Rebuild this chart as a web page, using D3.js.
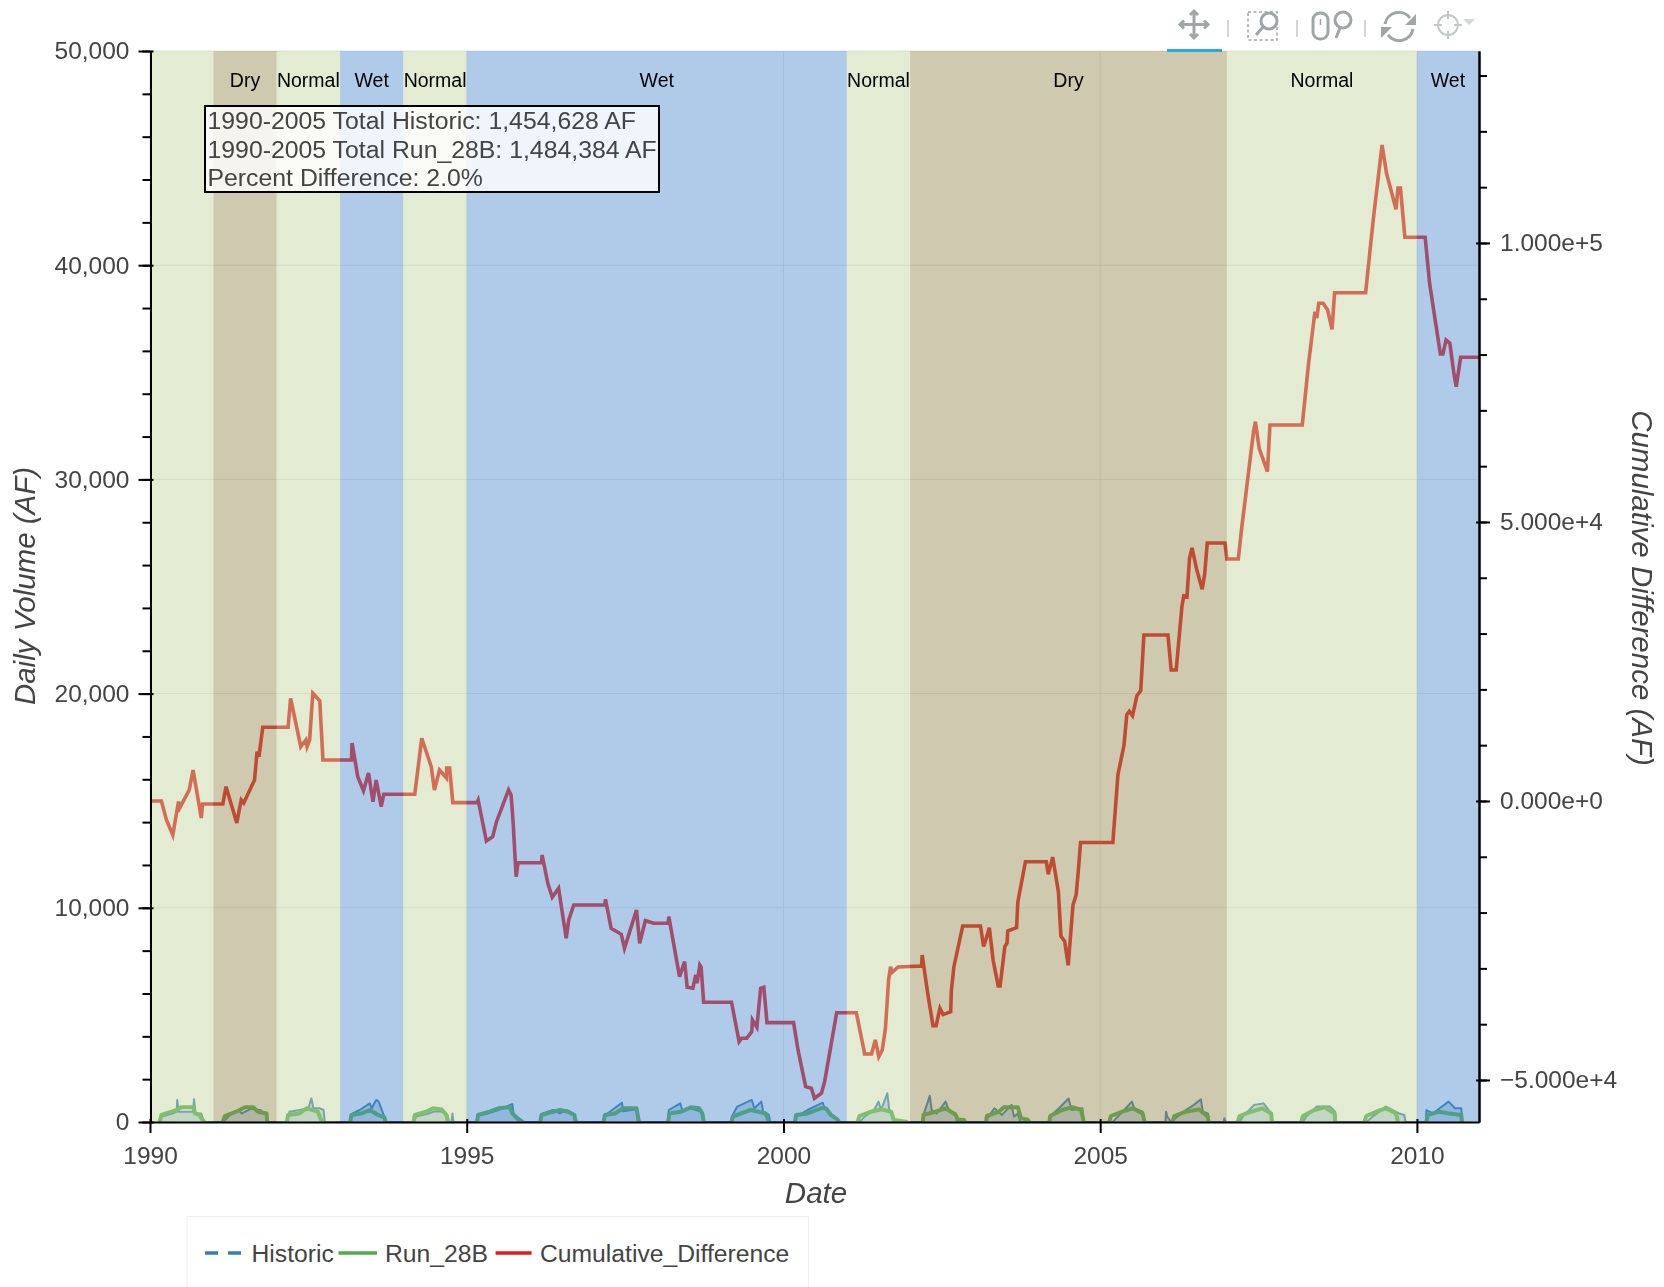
<!DOCTYPE html>
<html><head><meta charset="utf-8">
<style>html,body{margin:0;padding:0;background:#fff;overflow:hidden}svg{display:block;filter:blur(.55px)}text{font-family:"Liberation Sans",Arial,sans-serif}</style>
<script src="https://cdn.jsdelivr.net/npm/d3@7"></script></head><body>
<script>
// Water-year type periods: [start, end, type, label]
const periods=[[1990,1991,"Normal",""],[1991,1992,"Dry","Dry"],[1992,1993,"Normal","Normal"],[1993,1994,"Wet","Wet"],[1994,1995,"Normal","Normal"],[1995,2001,"Wet","Wet"],[2001,2002,"Normal","Normal"],[2002,2007,"Dry","Dry"],[2007,2010,"Normal","Normal"],[2010,2010.98,"Wet","Wet"]];
const leftTicks=[0,10000,20000,30000,40000,50000];
const rightTicks=[-50000,0,50000,100000];
const xTicks=[1990,1995,2000,2005,2010];
// Cumulative difference (AF) by decimal year
const cumulative=[[1990,0],[1990.18,0],[1990.26,-3400],[1990.36,-6100],[1990.45,-100],[1990.47,-1250],[1990.62,2000],[1990.68,5550],[1990.81,-3050],[1990.83,-540],[1991.15,-540],[1991.2,2560],[1991.37,-3940],[1991.44,180],[1991.48,-360],[1991.65,3760],[1991.69,8830],[1991.72,7940],[1991.78,13200],[1992.18,13200],[1992.22,18400],[1992.38,9730],[1992.46,10930],[1992.48,9730],[1992.52,10930],[1992.57,19300],[1992.68,17970],[1992.73,7350],[1993.18,7350],[1993.19,10390],[1993.28,4350],[1993.37,1850],[1993.45,5020],[1993.52,-130],[1993.57,3760],[1993.65,-1020],[1993.69,1200],[1994.18,1200],[1994.29,11240],[1994.44,6150],[1994.49,1970],[1994.57,5550],[1994.68,4120],[1994.683,5910],[1994.73,5910],[1994.78,-300],[1995.16,-300],[1995.18,180],[1995.31,-7170],[1995.41,-6400],[1995.47,-3710],[1995.66,1970],[1995.7,1080],[1995.73,-3400],[1995.78,-13570],[1995.81,-11060],[1996.18,-11060],[1996.19,-9680],[1996.28,-14750],[1996.35,-17260],[1996.45,-15640],[1996.57,-24600],[1996.61,-21320],[1996.69,-18640],[1997.18,-18640],[1997.19,-17620],[1997.28,-22810],[1997.44,-23890],[1997.49,-26400],[1997.68,-19530],[1997.73,-25500],[1997.82,-21450],[1997.95,-21920],[1998.18,-21920],[1998.19,-20730],[1998.36,-31490],[1998.44,-28800],[1998.48,-33380],[1998.57,-33560],[1998.615,-31180],[1998.636,-32670],[1998.68,-29390],[1998.7,-29750],[1998.74,-36070],[1999.18,-36070],[1999.3,-43130],[1999.34,-42520],[1999.42,-42520],[1999.5,-41340],[1999.51,-39240],[1999.58,-40550],[1999.64,-33560],[1999.69,-33380],[1999.74,-39730],[2000.16,-39730],[2000.23,-44620],[2000.35,-51200],[2000.44,-51480],[2000.49,-53270],[2000.6,-52380],[2000.65,-50300],[2000.84,-37940],[2001.15,-37940],[2001.27,-44620],[2001.28,-45340],[2001.39,-45340],[2001.45,-42830],[2001.505,-45820],[2001.56,-44620],[2001.61,-40730],[2001.66,-32080],[2001.69,-29690],[2001.71,-30770],[2001.81,-29750],[2002.18,-29570],[2002.19,-27600],[2002.28,-34690],[2002.36,-40250],[2002.41,-40250],[2002.47,-37170],[2002.52,-38280],[2002.64,-37780],[2002.65,-34080],[2002.69,-29750],[2002.83,-22400],[2003.11,-22400],[2003.16,-26090],[2003.195,-24850],[2003.25,-22700],[2003.31,-28550],[2003.39,-33150],[2003.42,-33150],[2003.495,-26090],[2003.53,-25450],[2003.54,-23300],[2003.68,-22700],[2003.7,-18100],[2003.82,-10880],[2004.15,-10880],[2004.18,-13150],[2004.25,-10070],[2004.34,-16240],[2004.38,-24230],[2004.44,-25160],[2004.495,-29460],[2004.57,-18690],[2004.62,-16840],[2004.65,-13150],[2004.69,-7440],[2005.2,-7440],[2005.28,4700],[2005.375,9930],[2005.42,15460],[2005.46,16070],[2005.51,15290],[2005.58,18850],[2005.64,19780],[2005.69,29750],[2006.07,29750],[2006.12,23480],[2006.2,23480],[2006.29,34850],[2006.32,36740],[2006.37,36560],[2006.41,43470],[2006.45,45340],[2006.52,41630],[2006.61,37940],[2006.65,40700],[2006.69,46230],[2006.97,46230],[2007,43370],[2007.18,43370],[2007.23,48560],[2007.42,66180],[2007.45,67970],[2007.51,63200],[2007.64,59010],[2007.68,67380],[2008.19,67380],[2008.29,78440],[2008.39,87680],[2008.42,86550],[2008.45,89190],[2008.52,89190],[2008.59,87990],[2008.66,84530],[2008.7,91090],[2009.19,91090],[2009.31,104120],[2009.45,117560],[2009.52,112480],[2009.67,106030],[2009.7,109850],[2009.74,109850],[2009.81,101010],[2010.13,101010],[2010.2,92770],[2010.37,80100],[2010.41,80100],[2010.46,82610],[2010.52,82020],[2010.58,76930],[2010.62,74240],[2010.69,79510],[2010.98,79510]];
// Run_28B daily volume (AF)
const run28B=[[1990,0],[1990.15,0],[1990.18,330],[1990.34,480],[1990.42,560],[1990.49,690],[1990.68,690],[1990.71,400],[1990.78,330],[1990.81,170],[1990.86,0],
[1991.15,0],[1991.18,280],[1991.36,480],[1991.5,690],[1991.63,690],[1991.7,480],[1991.84,400],[1991.85,0],
[1992.16,0],[1992.18,330],[1992.36,400],[1992.47,640],[1992.57,560],[1992.65,480],[1992.7,100],[1992.73,0],
[1993.16,0],[1993.18,330],[1993.34,400],[1993.47,560],[1993.6,330],[1993.7,220],[1993.72,0],
[1994.16,0],[1994.18,330],[1994.36,480],[1994.47,640],[1994.6,590],[1994.68,330],[1994.7,0],
[1995.16,0],[1995.18,330],[1995.36,480],[1995.5,640],[1995.68,690],[1995.72,400],[1995.81,120],[1995.86,0],
[1996.16,0],[1996.18,330],[1996.36,480],[1996.47,560],[1996.6,480],[1996.7,330],[1996.72,0],
[1997.16,0],[1997.18,330],[1997.34,400],[1997.47,640],[1997.68,640],[1997.72,0],
[1998.18,0],[1998.2,400],[1998.38,480],[1998.54,690],[1998.67,640],[1998.72,400],[1998.74,0],
[1999.18,0],[1999.2,250],[1999.33,400],[1999.48,560],[1999.72,400],[1999.77,0],
[2000.18,0],[2000.2,330],[2000.38,400],[2000.59,640],[2000.67,640],[2000.75,330],[2000.85,120],[2000.88,0],
[2001.17,0],[2001.2,280],[2001.38,480],[2001.54,590],[2001.7,480],[2001.74,100],[2001.96,0],
[2002.2,0],[2002.21,330],[2002.4,480],[2002.56,640],[2002.72,330],[2002.75,120],[2002.85,90],[2002.87,0],
[2003.2,0],[2003.21,280],[2003.4,480],[2003.48,690],[2003.7,690],[2003.75,170],[2003.85,120],[2003.88,0],
[2004.2,0],[2004.21,280],[2004.4,560],[2004.56,690],[2004.7,560],[2004.74,0],
[2005.14,0],[2005.17,280],[2005.35,480],[2005.51,640],[2005.67,400],[2005.7,0],
[2006.14,0],[2006.17,280],[2006.35,480],[2006.56,590],[2006.7,250],[2006.71,0],
[2007.17,0],[2007.2,280],[2007.38,480],[2007.56,640],[2007.7,400],[2007.71,0],
[2008.17,0],[2008.2,280],[2008.38,560],[2008.54,690],[2008.7,400],[2008.71,0],
[2009.17,0],[2009.2,280],[2009.4,530],[2009.51,640],[2009.67,400],[2009.7,0],
[2010.15,0],[2010.17,330],[2010.35,480],[2010.51,400],[2010.7,330],[2010.71,0],[2010.98,0]];
// Historic daily volume (AF)
const historic=[[1990.16,0],[1990.18,250],[1990.36,400],[1990.42,480],[1990.43,1030],[1990.45,480],[1990.5,480],[1990.68,480],[1990.695,1060],[1990.72,400],[1990.81,400],[1990.84,120],[1990.86,0],
[1991.16,0],[1991.25,300],[1991.4,550],[1991.45,400],[1991.6,620],[1991.75,550],[1991.84,300],[1991.85,0],
[1992.17,0],[1992.2,480],[1992.36,560],[1992.5,640],[1992.547,1100],[1992.58,640],[1992.68,640],[1992.74,560],[1992.76,0],
[1993.16,0],[1993.2,400],[1993.31,560],[1993.47,870],[1993.5,640],[1993.57,1030],[1993.61,950],[1993.65,640],[1993.7,250],[1993.73,0],
[1994.17,0],[1994.2,250],[1994.4,400],[1994.5,500],[1994.62,480],[1994.7,300],[1994.72,0],[1994.76,0],[1994.775,400],[1994.79,0],
[1995.16,0],[1995.18,300],[1995.33,400],[1995.5,560],[1995.72,840],[1995.74,400],[1995.79,250],[1995.86,100],[1995.9,0],
[1996.17,0],[1996.2,400],[1996.36,560],[1996.47,400],[1996.57,560],[1996.68,400],[1996.73,100],[1996.74,0],
[1997.16,0],[1997.18,300],[1997.45,900],[1997.47,500],[1997.68,600],[1997.7,0],
[1998.17,0],[1998.19,560],[1998.37,870],[1998.41,480],[1998.54,640],[1998.7,480],[1998.74,0],
[1999.18,0],[1999.2,330],[1999.27,720],[1999.5,1030],[1999.54,640],[1999.65,950],[1999.68,480],[1999.77,330],[1999.79,0],
[2000.18,0],[2000.2,250],[2000.38,560],[2000.62,900],[2000.65,640],[2000.85,100],[2000.88,0],
[2001.2,0],[2001.28,250],[2001.43,560],[2001.5,950],[2001.54,560],[2001.64,1340],[2001.67,560],[2001.72,400],[2001.74,0],
[2002.2,0],[2002.21,330],[2002.31,1220],[2002.34,560],[2002.42,400],[2002.56,950],[2002.61,560],[2002.72,400],[2002.74,0],
[2003.19,0],[2003.2,100],[2003.33,640],[2003.45,330],[2003.6,800],[2003.64,250],[2003.7,400],[2003.74,0],
[2004.19,0],[2004.2,250],[2004.35,640],[2004.5,1100],[2004.55,560],[2004.72,640],[2004.74,0],
[2005.2,0],[2005.25,170],[2005.38,560],[2005.5,950],[2005.54,640],[2005.67,480],[2005.7,0],
[2006.03,0],[2006.04,480],[2006.06,250],[2006.12,0],[2006.16,100],[2006.35,560],[2006.48,800],[2006.59,1060],[2006.62,480],[2006.7,400],[2006.72,0],[2006.95,0],[2006.96,170],[2006.98,0],
[2007.2,0],[2007.25,250],[2007.43,800],[2007.58,870],[2007.7,400],[2007.72,0],
[2008.2,0],[2008.25,250],[2008.42,720],[2008.63,720],[2008.71,480],[2008.72,0],
[2009.2,0],[2009.3,250],[2009.51,720],[2009.72,400],[2009.8,330],[2009.82,0],
[2010.14,0],[2010.15,560],[2010.25,400],[2010.5,950],[2010.6,640],[2010.7,640],[2010.72,0]];
const boxLines=["1990-2005 Total Historic: 1,454,628 AF","1990-2005 Total Run_28B: 1,484,384 AF","Percent Difference: 2.0%"];
const legendItems=["Historic","Run_28B","Cumulative_Difference"];

const W=1664,H=1287,L=150.5,R=1479,T=51,B=1122;
const ink="#444",colors={Historic:"#377eb8",Run:"#4daf4a",Cum:"#e41a1c"};
const patch={Normal:"#c1d39b",Dry:"#958850",Wet:"#508ccf"};
const svg=d3.select("body").append("svg").attr("width",W).attr("height",H);
const x=d3.scaleLinear().domain([1990,2010.98]).range([150,R]);
const yL=d3.scaleLinear().domain([0,50000]).range([B,T]);
const yR=d3.scaleLinear().domain([-57530,134400]).range([B,T]);

svg.append("defs").append("clipPath").attr("id","plot").append("rect").attr("x",L).attr("y",T).attr("width",R-L).attr("height",B-T);
// outline + grid
svg.append("rect").attr("x",L).attr("y",T).attr("width",R-L).attr("height",B-T).attr("fill","#fff").attr("stroke","#e5e5e5");
svg.append("g").selectAll("line").data(leftTicks.slice(1,-1)).join("line").attr("x1",L).attr("x2",R).attr("y1",yL).attr("y2",yL).attr("stroke","#e5e5e5");
svg.append("g").selectAll("line").data(xTicks).join("line").attr("y1",T).attr("y2",B).attr("x1",x).attr("x2",x).attr("stroke","#e5e5e5");
// series
const g=svg.append("g").attr("clip-path","url(#plot)");
g.append("path").datum(historic).attr("fill",colors.Historic).attr("fill-opacity",.28).attr("stroke",colors.Historic).attr("stroke-width",2).attr("stroke-linejoin","round")
 .attr("d",d3.line().x(d=>x(d[0])).y(d=>yL(d[1])));
const runSeasons=[];run28B.forEach((d,i)=>{if(i==0||(d[1]==0&&run28B[i-1][1]==0))runSeasons.push([d]);else runSeasons[runSeasons.length-1].push(d);});
const lineL=d3.line().x(d=>x(d[0])).y(d=>yL(d[1]));
g.selectAll("path.run").data(runSeasons).join("path").attr("class","run").attr("fill","none").attr("stroke",colors.Run).attr("stroke-width",4).attr("stroke-linejoin","round").attr("d",lineL);
g.append("path").datum(cumulative).attr("fill","none").attr("stroke",colors.Cum).attr("stroke-width",3.6).attr("stroke-linejoin","miter").attr("d",d3.line().x(d=>x(d[0])).y(d=>yR(d[1])));
// period patches on top of the lines
svg.append("g").selectAll("rect").data(periods).join("rect")
 .attr("x",d=>x(d[0])).attr("width",d=>x(d[1])-x(d[0])).attr("y",T).attr("height",B-T)
 .attr("fill",d=>patch[d[2]]).attr("fill-opacity",.45);
svg.append("g").selectAll("text").data(periods.filter(d=>d[3])).join("text")
 .attr("x",d=>(x(d[0])+x(d[1]))/2).attr("y",86.5).attr("text-anchor","middle")
 .attr("font-size",19.5).attr("fill","#000").text(d=>d[3]);
// annotation box
const box=svg.append("g");
box.append("rect").attr("x",205).attr("y",106).attr("width",454).attr("height",86).attr("fill","#fff").attr("fill-opacity",.8).attr("stroke","#000").attr("stroke-width",2);
box.selectAll("text").data(boxLines).join("text").attr("x",207.5).attr("y",(d,i)=>129+i*28.5).attr("font-size",24.82).attr("fill",ink).text(d=>d);
// axes
function style(sel,fs){sel.select(".domain").attr("stroke","#000").attr("stroke-width",2);sel.selectAll("line").attr("stroke","#000").attr("stroke-width",2);sel.selectAll("text").attr("font-size",fs).attr("fill",ink).attr("font-family",'"Liberation Sans",Arial,sans-serif');}
const minorL=svg.append("g").attr("transform",`translate(${L},0)`).call(d3.axisLeft(yL).tickValues(d3.range(0,50001,2000)).tickSize(8).tickFormat("").tickSizeOuter(0));style(minorL,0);
const axL=svg.append("g").attr("transform",`translate(${L},0)`).call(d3.axisLeft(yL).tickValues(leftTicks).tickSize(12).tickSizeOuter(0).tickPadding(9).tickFormat(d3.format(",")));style(axL,24.5);axL.selectAll(".tick line").attr("x1",3);
const minorR=svg.append("g").attr("transform",`translate(${R},0)`).call(d3.axisRight(yR).tickValues(d3.range(-50000,130001,10000)).tickSize(8).tickFormat("").tickSizeOuter(0));style(minorR,0);
const axR=svg.append("g").attr("transform",`translate(${R},0)`).call(d3.axisRight(yR).tickValues(rightTicks).tickSize(11).tickSizeOuter(0).tickPadding(10).tickFormat(d3.format(".3e")));style(axR,24.5);axR.selectAll(".tick line").attr("x1",-3);
const axB=svg.append("g").attr("transform",`translate(0,${B})`).call(d3.axisBottom(x).tickValues(xTicks).tickSize(11).tickSizeOuter(0).tickPadding(14).tickFormat(d3.format("d")));style(axB,24.5);axB.selectAll(".tick line").attr("y1",-3);
// titles
const title=(t,xx,yy,rot)=>svg.append("text").attr("transform",`translate(${xx},${yy}) rotate(${rot})`).attr("text-anchor","middle").attr("font-size",29.5).attr("font-style","italic").attr("fill",ink).text(t);
title("Date",816,1203,0);
title("Daily Volume (AF)",34.5,586,-90);
title("Cumulative Difference (AF)",1632,588,90);
// legend
svg.append("rect").attr("x",187).attr("y",1216.5).attr("width",621.5).attr("height",90).attr("fill","#fff").attr("stroke","#eee");
const legendGeom=[[205,241,251.5,colors.Historic,"13 10"],[338.5,377,385,colors.Run,null],[495.6,531.6,540,colors.Cum,null]];
legendItems.forEach((t,i)=>{const m=legendGeom[i];
 svg.append("line").attr("x1",m[0]).attr("x2",m[1]).attr("y1",1253).attr("y2",1253).attr("stroke",m[3]).attr("stroke-width",3.6).attr("stroke-dasharray",m[4]);
 svg.append("text").attr("x",m[2]).attr("y",1261.5).attr("font-size",24.7).attr("fill",ink).text(t);});
// toolbar
const tb=svg.append("g").attr("fill","none").attr("stroke","#a0a5a8").attr("stroke-width",3);
tb.append("path").attr("d","M1194 11V38M1180 24.5H1208M1190 15l4-4 4 4M1190 34l4 4 4-4M1184 20.5l-4 4 4 4M1204 20.5l4 4-4 4");
[1228,1297,1365].forEach(v=>tb.append("line").attr("x1",v).attr("x2",v).attr("y1",20).attr("y2",37).attr("stroke-width",1.5).attr("stroke","#c4c8ca"));
tb.append("rect").attr("x",1248).attr("y",12).attr("width",29).attr("height",28).attr("stroke-dasharray","3 2.5").attr("stroke-width",1.5);
tb.append("circle").attr("cx",1269).attr("cy",21).attr("r",8);
tb.append("path").attr("d","M1263 27L1256 35");
tb.append("rect").attr("x",1313).attr("y",13).attr("width",15).attr("height",26).attr("rx",7);
tb.append("path").attr("d","M1320.5 19v6").attr("stroke-width",1.5);
tb.append("circle").attr("cx",1343).attr("cy",20).attr("r",8);
tb.append("path").attr("d","M1340 28L1336 38");
tb.append("path").attr("d","M1385 24a14 14 0 0 1 25-6M1413 29a14 14 0 0 1-25 6");
tb.append("path").attr("d","M1416 14v11h-11zM1381 38v-11h11z").attr("fill","#a0a5a8").attr("stroke","none");
const ch=tb.append("g").attr("stroke","#c4c8ca").attr("stroke-width",2);
ch.append("circle").attr("cx",1448).attr("cy",25).attr("r",10);
ch.append("path").attr("d","M1448 11v8M1448 31v8M1434 25h8M1454 25h8");
tb.append("path").attr("d","M1463 19h12l-6 6z").attr("fill","#d5d8da").attr("stroke","none");
svg.append("rect").attr("x",1167).attr("y",49).attr("width",55).attr("height",3).attr("fill","#26aae1");
</script></body></html>
